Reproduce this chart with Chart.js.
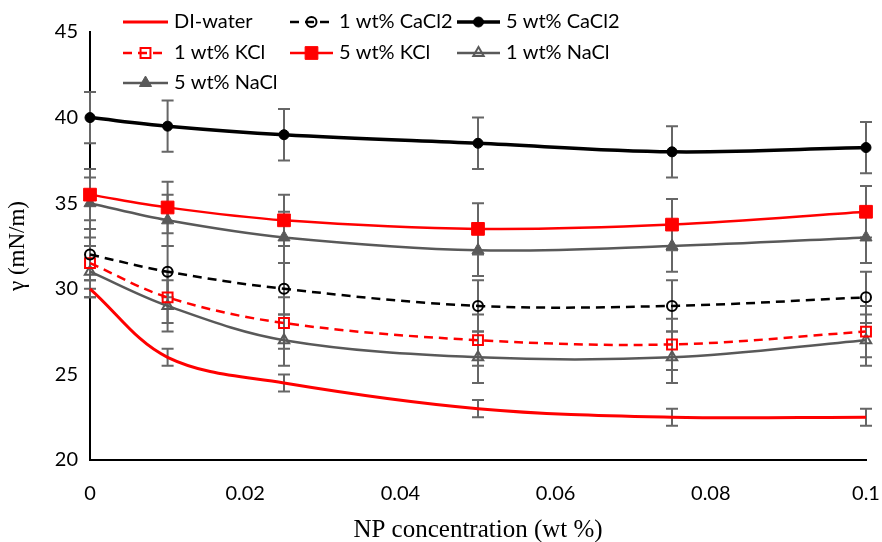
<!DOCTYPE html>
<html>
<head>
    <title>Surface tension vs NP concentration</title>
    <script src="https://cdn.jsdelivr.net/npm/chart.js"></script>
    <style>
        body { margin: 0; background: #fff; }
        #wrap { width: 882px; height: 542px; }
    </style>
</head>
<body>
    <div id="wrap"><canvas id="chart"></canvas></div>
    <script>
        const conc = [0, 0.01, 0.025, 0.05, 0.075, 0.1];
        const xTickLabels = ['0', '0.02', '0.04', '0.06', '0.08', '0.1'];
        const yTickLabels = ['20', '25', '30', '35', '40', '45'];

        const diWater   = [30, 26, 24.5, 23, 22.5, 22.5];
        const cacl2_1   = [32, 31, 30, 29, 29, 29.5];
        const cacl2_5   = [40, 39.5, 39, 38.5, 38, 38.25];
        const kcl_1     = [31.5, 29.5, 28, 27, 26.75, 27.5];
        const kcl_5     = [35.5, 34.75, 34, 33.5, 33.75, 34.5];
        const nacl_1    = [31, 29, 27, 26, 26, 27];
        const nacl_5    = [35, 34, 33, 32.25, 32.5, 33];

        const errDi   = [0.5, 0.5, 0.5, 0.5, 0.5, 0.5];
        const errSalt = [1.5, 1.5, 1.5, 1.5, 1.5, 1.5];

        const labelFont = 'Lato, "Open Sans", sans-serif';
        const serif = '"Liberation Serif", "DejaVu Serif", serif';
        const GRAY = '#595959';

        const pts = vals => vals.map((v, i) => ({x: conc[i], y: v}));

        const datasets = [
            {label: 'DI-water', data: pts(diWater), err: errDi, borderColor: '#ff0000', borderWidth: 3,
             pointStyle: false, pointRadius: 0},
            {label: '1 wt% CaCl2', data: pts(cacl2_1), err: errSalt, borderColor: '#000', borderWidth: 2.5,
             borderDash: [9, 6], pointStyle: 'circle', pointRadius: 5, pointBorderColor: '#000',
             pointBackgroundColor: 'rgba(0,0,0,0)', pointBorderWidth: 2},
            {label: '5 wt% CaCl2', data: pts(cacl2_5), err: errSalt, borderColor: '#000', borderWidth: 3.5,
             pointStyle: 'circle', pointRadius: 5, pointBorderColor: '#000', pointBackgroundColor: '#000',
             pointBorderWidth: 1},
            {label: '1 wt% KCl', data: pts(kcl_1), err: errSalt, borderColor: '#ff0000', borderWidth: 2.5,
             borderDash: [9, 6], pointStyle: 'rect', pointRadius: 7, pointBorderColor: '#ff0000',
             pointBackgroundColor: 'rgba(0,0,0,0)', pointBorderWidth: 2},
            {label: '5 wt% KCl', data: pts(kcl_5), err: errSalt, borderColor: '#ff0000', borderWidth: 2.5,
             pointStyle: 'rect', pointRadius: 9, pointBorderColor: '#ff0000', pointBackgroundColor: '#ff0000',
             pointBorderWidth: 1},
            {label: '1 wt% NaCl', data: pts(nacl_1), err: errSalt, borderColor: GRAY, borderWidth: 2.5,
             pointStyle: 'triangle', pointRadius: 6, pointBorderColor: GRAY,
             pointBackgroundColor: 'rgba(0,0,0,0)', pointBorderWidth: 2},
            {label: '5 wt% NaCl', data: pts(nacl_5), err: errSalt, borderColor: GRAY, borderWidth: 2.5,
             pointStyle: 'triangle', pointRadius: 7, pointBorderColor: GRAY, pointBackgroundColor: GRAY,
             pointBorderWidth: 1}
        ];
        datasets.forEach(d => { d.tension = 0.35; d.fill = false; d.clip = false; d.pointHoverRadius = d.pointRadius; });

        // error bars drawn under the markers
        const errorBars = {
            id: 'errorBars',
            beforeDatasetsDraw(chart) {
                const {ctx, scales: {x, y}} = chart;
                ctx.save();
                ctx.strokeStyle = '#666';
                ctx.lineWidth = 2;
                chart.data.datasets.forEach(ds => {
                    ds.data.forEach((p, i) => {
                        const px = x.getPixelForValue(p.x);
                        const top = y.getPixelForValue(p.y + ds.err[i]);
                        const bot = y.getPixelForValue(p.y - ds.err[i]);
                        ctx.beginPath();
                        ctx.moveTo(px, top); ctx.lineTo(px, bot);
                        ctx.moveTo(px - 6, top); ctx.lineTo(px + 6, top);
                        ctx.moveTo(px - 6, bot); ctx.lineTo(px + 6, bot);
                        ctx.stroke();
                    });
                });
                ctx.restore();
            }
        };

        // legend laid out in three columns inside the plot like the original
        const legendCols = [123, 290, 457];
        const legendRows = [22, 53, 83];
        const gridLegend = {
            id: 'gridLegend',
            afterDraw(chart) {
                const ctx = chart.ctx;
                ctx.save();
                chart.data.datasets.forEach((ds, i) => {
                    const lx = legendCols[i % 3], ly = legendRows[Math.floor(i / 3)];
                    const len = i % 3 === 0 ? 45 : 43;
                    ctx.strokeStyle = ds.borderColor;
                    ctx.lineWidth = ds.borderWidth;
                    ctx.setLineDash(ds.borderDash || []);
                    ctx.beginPath();
                    ctx.moveTo(lx, ly); ctx.lineTo(lx + len, ly);
                    ctx.stroke();
                    ctx.setLineDash([]);
                    if (ds.pointStyle) {
                        ctx.fillStyle = ds.pointBackgroundColor;
                        ctx.strokeStyle = ds.pointBorderColor;
                        ctx.lineWidth = ds.pointBorderWidth || 1;
                        Chart.helpers.drawPoint(ctx, {
                            pointStyle: ds.pointStyle, radius: ds.pointRadius,
                            borderWidth: ds.pointBorderWidth || 1, rotation: 0
                        }, lx + len / 2, ly);
                    }
                    ctx.fillStyle = '#000';
                    ctx.font = '20px ' + labelFont;
                    ctx.textBaseline = 'middle';
                    ctx.fillText(ds.label, lx + len + 6, ly);
                });
                ctx.restore();
            }
        };

        new Chart(document.getElementById('chart'), {
            type: 'line',
            data: {datasets},
            options: {
                responsive: true,
                maintainAspectRatio: false,
                animation: false,
                layout: {padding: {top: 32, right: 16, left: 0, bottom: 0}},
                plugins: {legend: {display: false}, tooltip: {enabled: false}},
                scales: {
                    x: {
                        type: 'linear', min: 0, max: 0.1,
                        grid: {display: false, drawTicks: false},
                        border: {color: '#000', width: 2},
                        ticks: {
                            stepSize: 0.02, padding: 22, color: '#000',
                            font: {family: labelFont, size: 20},
                            callback: (v, i) => xTickLabels[i]
                        },
                        title: {display: true, text: 'NP concentration (wt %)', color: '#000',
                                font: {family: serif, size: 25}, padding: {top: 4, bottom: -3}},
                        afterFit(s) { s.height = 82; s.paddingLeft = 0; s.paddingRight = 0; }
                    },
                    y: {
                        min: 20, max: 45,
                        grid: {display: false, drawTicks: false},
                        border: {color: '#000', width: 2},
                        ticks: {
                            stepSize: 5, padding: 12, color: '#000',
                            font: {family: labelFont, size: 20},
                            callback: (v, i) => yTickLabels[i]
                        },
                        title: {display: true, text: 'γ (mN/m)', color: '#000',
                                font: {family: serif, size: 23}, padding: {bottom: 2}},
                        afterFit(s) { s.width = 90; s.paddingTop = 0; s.paddingBottom = 0; }
                    }
                }
            },
            plugins: [errorBars, gridLegend]
        });
    </script>
</body>
</html>
